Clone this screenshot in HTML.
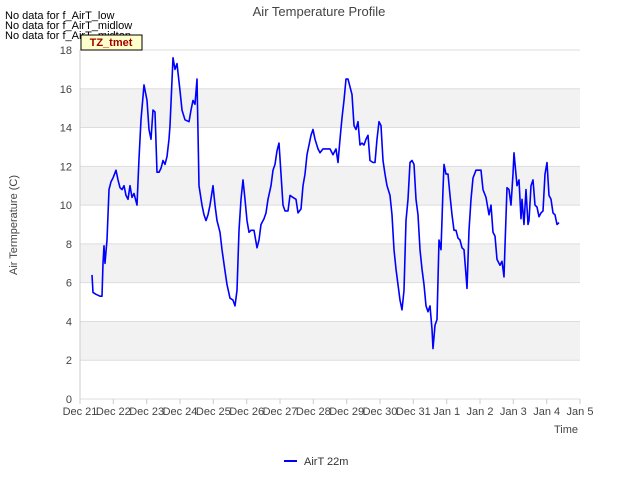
<!DOCTYPE html>
<html><head><meta charset="utf-8"><style>
body{margin:0;background:#fff;font-family:"Liberation Sans",sans-serif}
svg text{font-family:"Liberation Sans",sans-serif}
</style></head><body>
<svg id="chart" width="640" height="480" xmlns="http://www.w3.org/2000/svg">
<rect width="640" height="480" fill="#fff"/>
<g id="bands"></g>
<g id="grid"></g>
<g id="ticks"></g>
<text x="319" y="16" text-anchor="middle" font-size="13" fill="#444">Air Temperature Profile</text>
<text x="5" y="19" font-size="11" fill="#000">No data for f_AirT_low</text>
<text x="5" y="29" font-size="11" fill="#000">No data for f_AirT_midlow</text>
<text x="5" y="39" font-size="11" fill="#000">No data for f_AirT_midtop</text>
<rect x="81" y="35" width="61" height="15" fill="#ffffcc" stroke="#000" stroke-width="1"/>
<text x="111" y="46" text-anchor="middle" font-size="11" font-weight="bold" fill="#a00000">TZ_tmet</text>
<text transform="translate(17,225) rotate(-90)" text-anchor="middle" font-size="11" fill="#444">Air Termperature (C)</text>
<text x="578" y="433" text-anchor="end" font-size="11" fill="#444">Time</text>
<path id="series" fill="none" stroke="#0000ff" stroke-width="1.6" stroke-linejoin="round"/>
<line x1="284" y1="461" x2="297" y2="461" stroke="#0000ff" stroke-width="2"/>
<text x="304" y="465" font-size="11" fill="#333">AirT 22m</text>
</svg>
<script>
const xTickLabels=["Dec 21","Dec 22","Dec 23","Dec 24","Dec 25","Dec 26","Dec 27","Dec 28","Dec 29","Dec 30","Dec 31","Jan 1","Jan 2","Jan 3","Jan 4","Jan 5"];
const yTickLabels=[0,2,4,6,8,10,12,14,16,18];
const days=[0.36,0.39,0.48,0.6,0.66,0.69,0.72,0.75,0.81,0.87,0.93,0.99,1.08,1.14,1.2,1.26,1.32,1.38,1.44,1.5,1.56,1.62,1.71,1.77,1.83,1.92,2.01,2.07,2.13,2.19,2.25,2.31,2.37,2.43,2.49,2.55,2.61,2.67,2.7,2.79,2.85,2.91,3.0,3.06,3.15,3.27,3.33,3.39,3.45,3.51,3.57,3.66,3.72,3.78,3.84,3.9,3.99,4.05,4.11,4.2,4.26,4.35,4.41,4.5,4.59,4.65,4.71,4.77,4.83,4.89,4.95,5.01,5.07,5.13,5.22,5.31,5.37,5.43,5.52,5.58,5.64,5.73,5.79,5.85,5.91,5.97,6.03,6.09,6.15,6.24,6.3,6.39,6.48,6.54,6.63,6.69,6.75,6.81,6.87,6.93,6.99,7.05,7.14,7.2,7.29,7.38,7.5,7.59,7.68,7.74,7.8,7.86,7.92,7.98,8.04,8.1,8.16,8.22,8.28,8.34,8.4,8.46,8.52,8.58,8.64,8.7,8.79,8.85,8.91,8.97,9.03,9.09,9.15,9.21,9.3,9.36,9.42,9.48,9.54,9.6,9.66,9.72,9.78,9.84,9.9,9.96,10.02,10.08,10.14,10.2,10.26,10.32,10.38,10.44,10.5,10.56,10.59,10.65,10.71,10.77,10.83,10.89,10.92,10.98,11.04,11.1,11.16,11.22,11.28,11.34,11.4,11.46,11.52,11.58,11.61,11.67,11.73,11.79,11.88,12.03,12.09,12.18,12.27,12.33,12.39,12.45,12.51,12.6,12.66,12.72,12.75,12.81,12.87,12.93,12.99,13.02,13.11,13.17,13.23,13.26,13.32,13.38,13.44,13.47,13.53,13.59,13.65,13.71,13.77,13.83,13.89,13.95,14.01,14.07,14.13,14.19,14.25,14.31,14.37];
const temps=[6.4,5.5,5.4,5.3,5.3,7.0,7.9,7.0,8.2,10.8,11.2,11.4,11.8,11.3,10.9,10.8,11.0,10.5,10.3,11.0,10.4,10.6,10.0,12.4,14.4,16.2,15.4,13.9,13.4,14.9,14.8,11.7,11.7,11.9,12.3,12.1,12.5,13.4,14.1,17.6,17.0,17.3,15.9,14.9,14.4,14.3,14.9,15.4,15.2,16.5,11.0,10.0,9.5,9.2,9.5,10.0,11.0,10.0,9.2,8.6,7.7,6.6,5.9,5.2,5.1,4.8,5.6,8.7,10.3,11.3,10.3,9.2,8.6,8.7,8.7,7.8,8.2,9.0,9.3,9.6,10.3,11.0,11.8,12.1,12.8,13.2,11.6,10.0,9.7,9.7,10.5,10.4,10.3,9.6,9.8,11.0,11.6,12.6,13.1,13.6,13.9,13.4,12.9,12.7,12.9,12.9,12.9,12.6,12.9,12.2,13.4,14.5,15.4,16.5,16.5,16.1,15.7,14.1,13.9,14.3,13.1,13.2,13.1,13.4,13.6,12.3,12.2,12.2,13.4,14.3,14.1,12.3,11.6,11.0,10.5,9.5,7.7,6.7,5.9,5.1,4.6,5.6,9.2,10.3,12.2,12.3,12.1,10.3,9.5,7.7,6.7,5.9,4.8,4.5,4.8,3.6,2.6,3.8,4.1,8.2,7.7,10.8,12.1,11.6,11.6,10.5,9.5,8.7,8.7,8.3,8.2,7.8,7.7,6.4,5.7,8.7,10.3,11.4,11.8,11.8,10.8,10.4,9.5,10.0,8.6,8.4,7.2,6.9,7.1,6.3,7.9,10.9,10.8,10.0,11.6,12.7,11.0,11.3,9.3,10.3,9.0,10.8,9.0,9.2,11.0,11.3,10.0,9.9,9.4,9.6,9.7,11.6,12.2,10.5,10.3,9.6,9.5,9.0,9.1];
const X0=80,X1=580,Y0=399,Y1=50;
const xs=d=>X0+d*(X1-X0)/15;
const ys=v=>Y0-v*(Y0-Y1)/18;
const NS="http://www.w3.org/2000/svg";
function mk(t,a,p){const e=document.createElementNS(NS,t);for(const k in a)e.setAttribute(k,a[k]);p.appendChild(e);return e;}
const bands=document.getElementById('bands'),grid=document.getElementById('grid'),ticks=document.getElementById('ticks');
for(let i=0;i<yTickLabels.length-1;i++){
  if(i%2===1){const r=mk('rect',{x:X0,y:ys(yTickLabels[i+1]),width:X1-X0,height:ys(yTickLabels[i])-ys(yTickLabels[i+1]),fill:'#f2f2f2'},bands);
  
  }
}
yTickLabels.forEach(v=>{
  const l=mk('line',{x1:X0,x2:X1,y1:ys(v),y2:ys(v),stroke:'#dddddd','stroke-width':1},grid);
  
  
  const t=mk('text',{x:X0-8,y:ys(v)+4,'text-anchor':'end','font-size':11,fill:'#444'},ticks);
  
  
  t.textContent=v;
});
const ax=mk('line',{x1:X0,x2:X0,y1:Y1,y2:Y0,stroke:'#ccc'},grid);


xTickLabels.forEach((s,i)=>{
  const tk=mk('line',{x1:xs(i),x2:xs(i),y1:Y0,y2:Y0+5,stroke:'#ccc'},ticks);
  
  
  const t=mk('text',{x:xs(i),y:Y0+16,'text-anchor':'middle','font-size':11,fill:'#444'},ticks);
  
  
  t.textContent=s;
});
document.getElementById('series').setAttribute('d',days.map((d,i)=>(i?'L':'M')+xs(d).toFixed(1)+','+ys(temps[i]).toFixed(1)).join(''));
</script>
</body></html>
